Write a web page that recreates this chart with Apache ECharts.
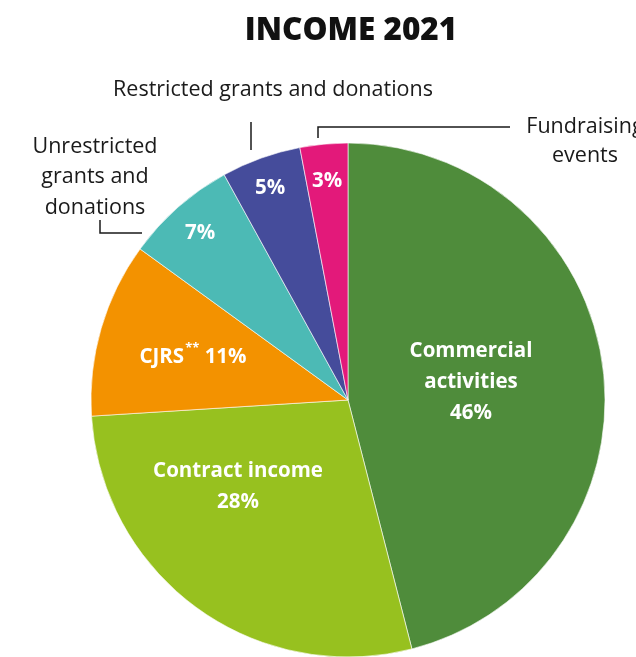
<!DOCTYPE html>
<html>
<head>
<meta charset="utf-8">
<title>Income 2021</title>
<script src="https://cdn.jsdelivr.net/npm/echarts@6/dist/echarts.min.js"></script>
<style>
  html, body { margin: 0; padding: 0; background: #fff; }
  #chart { width: 636px; height: 657px; }
</style>
</head>
<body>
<div id="chart"></div>
<script>
// Income sources, share of total (%)
const categories = [
  'Commercial activities',
  'Contract income',
  'CJRS',
  'Unrestricted grants and donations',
  'Restricted grants and donations',
  'Fundraising events'
];
const shares = [46, 28, 11, 7, 5, 3];
const sliceColors = ['#4f8c3b', '#97c11f', '#f39200', '#4cbab5', '#454c9b', '#e3197a'];

// Text drawn inside each slice
const insideLabels = [
  'Commercial\nactivities\n46%',
  'Contract income\n28%',
  'CJRS{sup|**} 11%',
  '7%',
  '5%',
  '3%'
];

// Layout
const CX = 348, CY = 400, R = 257;
// label centre offsets from the pie centre
const labelOffsets = [
  [123, -18],
  [-110, 87],
  [-155, -43],
  [-148, -167],
  [-78, -212],
  [-21, -219]
];

const font = '"Open Sans", "DejaVu Sans", sans-serif';
const outerText = { fontFamily: font, fontSize: 21.5, fill: '#1a1a1a', align: 'center', verticalAlign: 'middle' };

const chart = echarts.init(document.getElementById('chart'), null, { renderer: 'canvas' });

chart.setOption({
  animation: false,
  title: {
    text: 'INCOME 2021',
    left: 346,
    textAlign: 'center',
    top: 10,
    textStyle: { fontFamily: font, fontWeight: 800, fontSize: 31.5, color: '#111' }
  },
  graphic: [
    // external category labels
    {
      type: 'text', x: 273, y: 90,
      style: Object.assign({ text: 'Restricted grants and donations' }, outerText)
    },
    {
      type: 'text', x: 585, y: 141,
      style: Object.assign({ text: 'Fundraising\nevents', lineHeight: 29 }, outerText)
    },
    {
      type: 'text', x: 95, y: 177,
      style: Object.assign({ text: 'Unrestricted\ngrants and\ndonations', lineHeight: 30.5 }, outerText)
    },
    // leader lines
    {
      type: 'polyline',
      shape: { points: [[251, 122], [251, 150]] },
      style: { stroke: '#1a1a1a', lineWidth: 1.5, fill: null }
    },
    {
      type: 'polyline',
      shape: { points: [[318, 138], [318, 127], [510, 127]] },
      style: { stroke: '#1a1a1a', lineWidth: 1.5, fill: null }
    },
    {
      type: 'polyline',
      shape: { points: [[100, 220], [100, 233], [142, 233]] },
      style: { stroke: '#1a1a1a', lineWidth: 1.5, fill: null }
    }
  ],
  series: [{
    type: 'pie',
    center: [CX, CY],
    radius: [0, R],
    startAngle: 90,
    clockwise: true,
    avoidLabelOverlap: false,
    itemStyle: { borderColor: '#ffffff', borderWidth: 0.6 },
    label: {
      show: true,
      position: 'inside',
      color: '#fff',
      fontFamily: font,
      fontWeight: 'bold',
      fontSize: 20.5,
      lineHeight: 31,
      align: 'center',
      formatter: p => insideLabels[p.dataIndex],
      rich: {
        sup: { color: '#fff', fontFamily: font, fontWeight: 'bold', fontSize: 13, verticalAlign: 'top', padding: [0, 0, 8, 1] }
      }
    },
    labelLine: { show: false },
    labelLayout: params => {
      const o = labelOffsets[params.dataIndex];
      return { x: CX + o[0], y: CY + o[1], align: 'center', verticalAlign: 'middle' };
    },
    emphasis: { disabled: true },
    data: categories.map((name, i) => ({
      name,
      value: shares[i],
      itemStyle: { color: sliceColors[i] }
    }))
  }]
});
</script>
</body>
</html>
